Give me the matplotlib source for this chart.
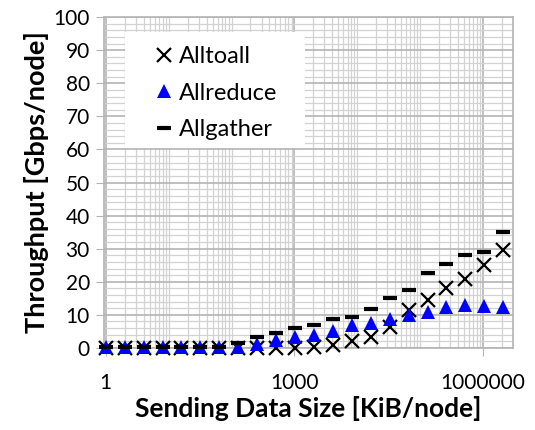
import numpy as np
import matplotlib
matplotlib.use("Agg")
import matplotlib.pyplot as plt
from matplotlib.patches import Rectangle
from matplotlib.ticker import LogLocator, FixedFormatter, FixedLocator, MultipleLocator, NullFormatter

plt.rcParams['font.family'] = ['Lato', 'DejaVu Sans']

# data size per node [KiB]: 2^0 .. 2^21
sizes = [2 ** i for i in range(22)]

alltoall = [0.1, 0.1, 0.1, 0.1, 0.1, 0.1, 0.1, 0.1, 0.1, 0.1, 0.1, 0.4,
            0.9, 2.2, 3.4, 6.2, 11.5, 14.5, 18.0, 20.9, 25.1, 29.5]
allreduce = [0.2, 0.2, 0.2, 0.2, 0.2, 0.2, 0.2, 0.3, 1.2, 2.4, 3.4, 3.9,
             5.1, 7.0, 7.5, 8.7, 10.0, 10.7, 12.5, 13.0, 12.7, 12.5]
allgather = [0.4, 0.4, 0.4, 0.4, 0.4, 0.4, 0.4, 1.6, 3.4, 4.4, 5.9, 7.0,
             8.7, 9.2, 11.7, 15.2, 17.6, 22.6, 25.4, 28.2, 29.0, 35.0]

xtick_vals = [1, 1000, 1000000]
xtick_labels = ['1', '1000', '1000000']

fig = plt.figure(figsize=(5.35, 4.30), dpi=100)
ax = fig.add_axes([0.194, 0.191, 0.765, 0.769])

ax.plot(sizes, alltoall, linestyle='none', marker='x', color='black',
        markersize=10.5, markeredgewidth=1.6, label='Alltoall', clip_on=False, zorder=3)
ax.plot(sizes, allreduce, linestyle='none', marker='^', color='#0000ff',
        markersize=10.5, markeredgewidth=0, label='Allreduce', clip_on=False, zorder=3)
ax.plot(sizes, allgather, linestyle='none', marker='_', color='black',
        markersize=10, markeredgewidth=3, label='Allgather', clip_on=False, zorder=4)

ax.set_xscale('log')
ax.set_xlim(0.93, 3.0e6)
ax.set_ylim(0, 100)

ax.xaxis.set_major_locator(FixedLocator(xtick_vals))
ax.xaxis.set_major_formatter(FixedFormatter(xtick_labels))
ax.xaxis.set_minor_locator(LogLocator(base=10, subs=np.arange(1, 10), numticks=20))
ax.xaxis.set_minor_formatter(NullFormatter())
ax.yaxis.set_major_locator(MultipleLocator(10))
ax.yaxis.set_minor_locator(MultipleLocator(2))

ax.grid(True, which='major', color='#b4b4b4', linewidth=1.2)
ax.grid(True, which='minor', color='#d2d2d2', linewidth=0.9)
ax.set_axisbelow(True)

for s in ax.spines.values():
    s.set_color('#b4b4b4')
    s.set_linewidth(1.2)

ax.tick_params(axis='both', which='major', labelsize=15, length=6, color='#b4b4b4', pad=4)
ax.tick_params(axis='both', which='minor', length=0)
ax.tick_params(axis='x', pad=12)

ax.set_xlabel('Sending Data Size [KiB/node]', fontsize=19, fontweight='bold', labelpad=2)
ax.set_ylabel('Throughput [Gbps/node]', fontsize=19.5, fontweight='bold', labelpad=3)

# white legend background
ax.add_patch(Rectangle((0.051, 0.604), 0.44, 0.351, transform=ax.transAxes,
                       facecolor='white', edgecolor='none', zorder=2.5))

leg = ax.legend(loc='upper left', bbox_to_anchor=(0.118, 0.912), fontsize=17,
                frameon=False, handlelength=1.0, handletextpad=0.15,
                labelspacing=0.65, borderpad=0, borderaxespad=0)
leg.set_zorder(5)

fig.savefig('out.png', dpi=100)
